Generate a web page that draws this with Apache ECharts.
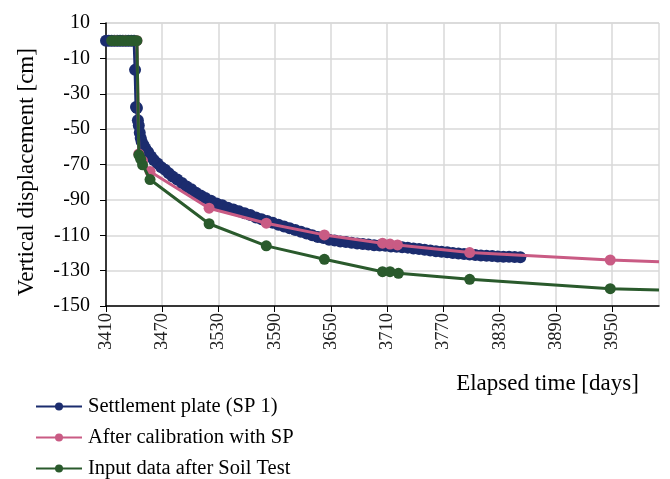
<!DOCTYPE html>
<html>
<head>
<meta charset="utf-8">
<script src="https://cdn.jsdelivr.net/npm/echarts@6/dist/echarts.min.js"></script>
<style>
html,body{margin:0;padding:0;background:#fff;}
#chart{width:670px;height:479px;}
</style>
</head>
<body>
<div id="chart"></div>
<script>
// Settlement plate (SP 1) measurements: [elapsed day, displacement cm]
const spDays = [3410,3413,3416,3419,3422,3425,3428,3431,3434,3437,3440,3441,3442,3443,3444,3445,3446,3447,3448,3450,3452,3455,3458,3461,3465,3469,3473,3477,3481,3486,3491,3496,3501,3506,3511,3516,3522,3528,3534,3540,3546,3552,3558,3564,3570,3576,3582,3588,3594,3600,3606,3612,3618,3624,3630,3636,3642,3648,3654,3660,3666,3672,3678,3684,3690,3696,3702,3708,3714,3720,3726,3732,3738,3744,3750,3756,3762,3768,3774,3780,3786,3792,3798,3804,3810,3816,3822,3828,3834,3840,3846,3852];
const spValues = [0,0,0,0,0,0,0,0,0,0,0,-16.5,-37.5,-38,-45,-48,-52,-55,-57,-59,-61,-63,-65.5,-67.5,-69.5,-71.5,-73,-75,-76.8,-78.5,-80.5,-82.5,-84,-86,-87.5,-89,-90.5,-92,-93,-94.5,-95.5,-96.5,-97.5,-98.5,-100,-101,-102,-103,-104,-105,-106,-107,-108,-109,-110,-111,-111.5,-112.5,-113,-113.5,-113.8,-114.2,-114.6,-115,-115.3,-115.6,-115.8,-116,-116.3,-116.5,-116.8,-117,-117.5,-117.8,-118.2,-118.6,-119,-119.3,-119.6,-120,-120.3,-120.6,-120.9,-121.2,-121.4,-121.6,-121.8,-122,-122.1,-122.2,-122.3,-122.4];

// After calibration with SP
const calDays = [3420,3430,3443,3445,3449,3457,3520,3581,3643,3705,3713,3721,3798,3948,4000];
const calValues = [0,0,0,-64,-68,-74,-94.7,-103.2,-109.8,-114.5,-115,-115.5,-119.8,-124,-125];

// Input data after Soil Test
const soilDays = [3416,3419,3422,3425,3428,3431,3434,3437,3440,3443,3445,3447,3449,3457,3520,3581,3643,3705,3713,3722,3798,3948,4000];
const soilValues = [0,0,0,0,0,0,0,0,0,0,-64.5,-67,-70.2,-78.5,-103.5,-116,-123.6,-130.6,-130.6,-131.5,-134.9,-140.2,-141];

const xTicks = [3410,3470,3530,3590,3650,3710,3770,3830,3890,3950];
const seriesNames = ['Settlement plate (SP 1)','After calibration with SP','Input data after Soil Test'];

const FONT = '"Liberation Serif", "Times New Roman", serif';

function pairs(days, vals, lastNoSymbol) {
  return days.map((d, i) => {
    if (lastNoSymbol && i === days.length - 1) return {value: [d, vals[i]], symbol: 'none'};
    return [d, vals[i]];
  });
}

const chart = echarts.init(document.getElementById('chart'), null, {renderer: 'canvas'});
chart.setOption({
  animation: false,
  backgroundColor: '#ffffff',
  textStyle: {fontFamily: FONT},
  grid: {left: 106, top: 23, right: 11, bottom: 173, show: true, borderColor: '#c8c8c8', borderWidth: 1, containLabel: false},
  legend: {
    orient: 'vertical', left: 35, top: 396, padding: 0, height: 84,
    itemWidth: 46, itemHeight: 10, itemGap: 10,
    textStyle: {fontFamily: FONT, fontSize: 20.5, color: '#000', padding: [0, 0, 0, 1]},
    data: seriesNames
  },
  xAxis: {
    type: 'value', min: 3410, max: 4000, interval: 60,
    name: 'Elapsed time [days]', nameLocation: 'middle', nameGap: 66,
    nameTextStyle: {fontFamily: FONT, fontSize: 23, color: '#000', padding: [0, 0, 0, 330]},
    axisLine: {show: true, onZero: false, lineStyle: {color: '#000', width: 1.5}},
    axisTick: {show: true, length: 6, inside: false, lineStyle: {color: '#000'}, customValues: xTicks},
    axisLabel: {rotate: 90, fontFamily: FONT, fontSize: 18.5, color: '#222', margin: 7, customValues: xTicks,
      formatter: v => String(v)},
    splitLine: {show: true, lineStyle: {color: '#d9d9d9', width: 1.5}}
  },
  yAxis: {
    type: 'value', min: -150, max: 10, interval: 20,
    name: 'Vertical displacement [cm]', nameLocation: 'middle', nameGap: 68,
    nameTextStyle: {fontFamily: FONT, fontSize: 23, color: '#000', padding: [0, 15, 0, 0]},
    axisLine: {show: true, onZero: false, lineStyle: {color: '#000', width: 1.5}},
    axisTick: {show: true, length: 6, inside: false, lineStyle: {color: '#000'}},
    axisLabel: {fontFamily: FONT, fontSize: 20, color: '#000', margin: 16, formatter: v => String(v)},
    splitLine: {show: true, lineStyle: {color: '#d9d9d9', width: 1.5}}
  },
  series: [
    {
      name: seriesNames[0], type: 'line', data: pairs(spDays, spValues, false),
      symbol: 'circle', symbolSize: 12, showAllSymbol: true,
      itemStyle: {color: '#1b2c6e'}, lineStyle: {color: '#1b2c6e', width: 3}, z: 2
    },
    {
      name: seriesNames[1], type: 'line', data: pairs(calDays, calValues, true),
      symbol: 'circle', symbolSize: 11, showAllSymbol: true,
      itemStyle: {color: '#c95b84'}, lineStyle: {color: '#c95b84', width: 3}, z: 3
    },
    {
      name: seriesNames[2], type: 'line', data: pairs(soilDays, soilValues, true),
      symbol: 'circle', symbolSize: 11, showAllSymbol: true,
      itemStyle: {color: '#2a5a2c'}, lineStyle: {color: '#2a5a2c', width: 3}, z: 4
    }
  ]
});
</script>
</body>
</html>
